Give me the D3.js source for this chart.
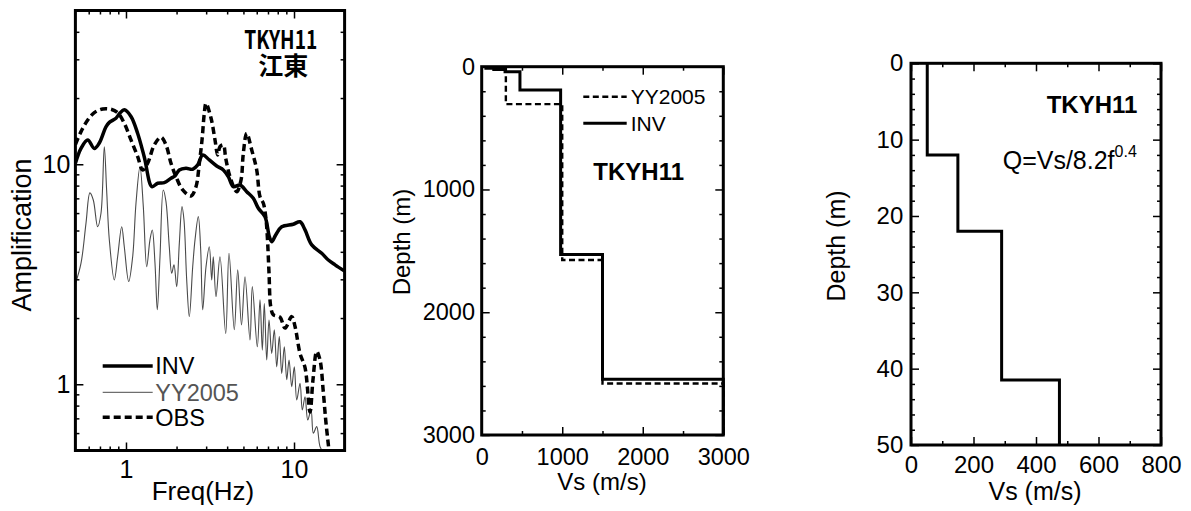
<!DOCTYPE html>
<html>
<head>
<meta charset="utf-8">
<script src="https://cdn.jsdelivr.net/npm/d3@7"></script>
<style>
  html, body { margin: 0; padding: 0; background: #fff; }
  svg { display: block; }
  text { font-family: "Liberation Sans", Arial, sans-serif; fill: #000; }
</style>
</head>
<body>
<svg id="chart" width="1191" height="511"></svg>
<script>
// ---- Amplification spectra (site TKYH11) ----
const invFreq = [0.5,0.540,0.592,0.648,0.694,0.760,0.796,0.872,0.921,0.977,1.071,1.174,1.285,1.428,1.544,1.690,1.853,1.957,2.077,2.276,2.495,2.673,2.861,3.132,3.467,3.795,4.064,4.352,4.770,5.230,5.725,6.133,6.72,7.13,7.37,7.78,8.45,9.90,10.86,11.63,12.75,14.62,16.01,17.54,20.0];
const invAmp  = [10.1,11.82,12.9,11.8,12.5,14.8,15.5,16.2,17.1,17.7,16.5,13.8,10.8,7.91,8.20,8.25,8.64,8.85,9.42,9.59,9.49,9.93,11.02,10.46,9.82,9.42,8.78,7.91,8.05,7.51,7.01,6.31,5.78,4.69,4.45,4.77,5.20,5.34,5.48,5.03,4.30,3.94,3.67,3.49,3.27];

const obsFreq = [0.5,0.540,0.592,0.648,0.727,0.814,0.892,0.977,1.071,1.174,1.257,1.346,1.474,1.615,1.730,1.853,1.985,2.176,2.437,2.610,2.732,2.835,2.925,2.994,3.206,3.387,3.514,3.627,3.795,3.922,4.159,4.560,4.837,4.992,5.230,5.601,5.998,6.276,6.568,6.787,6.937,7.10,7.27,7.53,8.25,8.84,9.69,10.14,10.86,11.63,12.45,12.97,13.65,14.28,14.94,15.44,16.01,16.3];
const obsAmp  = [12.3,14.07,15.90,17.16,17.84,17.78,17.16,15.36,12.90,10.83,9.42,10.11,12.24,13.27,12.24,10.11,8.78,7.64,7.17,7.91,10.11,12.90,17.06,18.94,16.23,12.90,11.02,12.02,12.24,10.65,8.78,7.51,8.48,11.22,13.83,11.62,9.42,7.12,6.65,5.78,4.69,3.20,2.25,2.07,2.02,1.80,2.03,1.83,1.38,1.19,0.748,1.05,1.41,1.29,0.923,0.688,0.530,0.47];

const yyFreq = [0.5,0.540,0.578,0.610,0.639,0.678,0.710,0.743,0.767,0.796,
  0.852,0.892,0.943,0.977,1.038,1.096,1.147,1.211,1.268,1.328,
  1.389,1.434,1.488,1.536,1.594,1.667,1.730,1.810,1.871,1.931,
  2.004,2.077,2.154,2.214,2.298,2.382,2.495,2.575,2.694,2.784,
  2.861,2.994,3.132,3.237,3.308,3.433,3.627,3.922,4.103,4.412,
  4.623,4.870,5.109,5.471,5.647,6.047,6.276,6.477,6.656,6.879,
  7.099,7.366,7.633,7.888,8.174,8.448,8.755,9.05,9.34,9.69,
  10.04,10.38,10.86,11.20,11.63,12.07,12.63,13.03,13.65,14.28,14.94];
const yyAmp = [2.86,3.55,5.39,7.41,6.88,5.20,5.99,12.02,7.64,4.53,
  2.98,3.80,5.20,4.22,2.93,3.80,6.65,9.75,6.42,3.42,
  4.53,5.03,3.55,2.18,3.80,7.64,6.76,4.22,3.20,3.49,
  2.78,4.37,6.42,5.58,2.98,2.03,3.42,4.53,5.78,4.08,
  2.18,3.42,4.22,2.98,3.80,2.50,3.80,1.70,3.94,1.77,
  3.31,1.86,3.08,1.59,2.78,1.48,2.42,1.43,2.33,1.29,
  1.96,1.38,1.77,1.20,1.65,1.12,1.48,1.05,1.29,0.975,
  1.20,0.848,1.01,0.764,0.878,0.688,0.764,0.599,0.642,0.521,0.492];

// ---- Velocity profiles: layer top depth (m) and Vs (m/s) ----
const invLayerTop = [0, 12, 22, 41.5, 190, 1530, 2545];
const invLayerVs  = [52, 150, 290, 475, 980, 1500, 3000];
const yyLayerTop  = [0, 305, 1575, 2580];
const yyLayerVs   = [300, 1000, 1500, 3000];

// ---- Tick values ----
const ampMajor = [1, 10];
const ampMinor = [0.6,0.7,0.8,0.9,2,3,4,5,6,7,8,9,20,30,40];
const freqMajor = [1, 10];
const freqMinor = [0.6,0.7,0.8,0.9,2,3,4,5,6,7,8,9];
const deepMajor = [0, 1000, 2000, 3000];
const deepVsMinor = [500, 1500, 2500];
const deepDepthMinor = [200,400,600,800,1200,1400,1600,1800,2200,2400,2600,2800];
const shallowVsMajor = [0, 200, 400, 600, 800];
const shallowVsMinor = [100, 300, 500, 700];
const shallowDepthMajor = [0, 10, 20, 30, 40, 50];
const shallowDepthMinor = [2,4,6,8,12,14,16,18,22,24,26,28,32,34,36,38,42,44,46,48];

const svg = d3.select("#chart");
const zip = (a, b) => a.map((v, i) => [v, b[i]]);

// Box with inward ticks on all four sides
function frame(g, x, y, opts) {
  const [x0, x1] = x.range();
  const [y1, y0] = [Math.max(...y.range()), Math.min(...y.range())];
  const fs = opts.fontSize;
  const big = 8, small = 4;
  const fmt = opts.format || (d => d);

  function put(axisFn, scale, vals, size, pos, labels, pad) {
    const ax = axisFn(scale).tickValues(vals).tickSize(size)
      .tickPadding(pad || 0).tickFormat(labels ? fmt : "");
    const s = g.append("g").attr("transform", pos).call(ax);
    s.select(".domain").remove();
    s.selectAll("line").attr("stroke", "#000").attr("stroke-width", 1.5);
    s.selectAll("text").attr("font-size", fs).attr("font-family", "'Liberation Sans', Arial, sans-serif").attr("fill", "#000");
    return s;
  }
  // bottom
  put(d3.axisBottom, x, opts.xMajor, -big, `translate(0,${y1})`, true, opts.xPad);
  put(d3.axisBottom, x, opts.xMinor, -small, `translate(0,${y1})`, false);
  // top
  put(d3.axisTop, x, opts.xMajor, -big, `translate(0,${y0})`, false);
  put(d3.axisTop, x, opts.xMinor, -small, `translate(0,${y0})`, false);
  // left
  put(d3.axisLeft, y, opts.yMajor, -big, `translate(${x0},0)`, true, opts.yPad);
  put(d3.axisLeft, y, opts.yMinor, -small, `translate(${x0},0)`, false);
  // right
  put(d3.axisRight, y, opts.yMajor, -big, `translate(${x1},0)`, false);
  put(d3.axisRight, y, opts.yMinor, -small, `translate(${x1},0)`, false);

  g.append("rect").attr("x", x0).attr("y", y0)
    .attr("width", x1 - x0).attr("height", y1 - y0)
    .attr("fill", "none").attr("stroke", "#000").attr("stroke-width", 3);
}

/* ================= Panel 1: amplification ================= */
const xL = d3.scaleLog().domain([0.5, 20]).range([75.4, 344.6]);
const yL = d3.scaleLog().domain([0.5, 50]).range([450.5, 10.5]);
const gL = svg.append("g");

svg.append("defs").append("clipPath").attr("id", "clipL")
  .append("rect").attr("x", 75.4).attr("y", 10.5).attr("width", 269.2).attr("height", 440);

const lineL = d3.line().x(d => xL(d[0])).y(d => yL(d[1])).curve(d3.curveCatmullRom.alpha(0.5));
const curves = gL.append("g").attr("clip-path", "url(#clipL)");
curves.append("path").attr("d", lineL(zip(yyFreq, yyAmp)))
  .attr("fill", "none").attr("stroke", "#4a4a4a").attr("stroke-width", 1.1);
curves.append("path").attr("d", lineL(zip(obsFreq, obsAmp)))
  .attr("fill", "none").attr("stroke", "#000").attr("stroke-width", 3.5).attr("stroke-dasharray", "7,4");
curves.append("path").attr("d", lineL(zip(invFreq, invAmp)))
  .attr("fill", "none").attr("stroke", "#000").attr("stroke-width", 3.5);

frame(gL, xL, yL, {
  fontSize: 25, xMajor: freqMajor, xMinor: freqMinor, yMajor: ampMajor, yMinor: ampMinor,
  xPad: 10, yPad: 5
});

gL.append("text").attr("x", 203).attr("y", 500).attr("text-anchor", "middle")
  .attr("font-size", 26).text("Freq(Hz)");
gL.append("text").attr("transform", "translate(31,235) rotate(-90)").attr("text-anchor", "middle")
  .attr("font-size", 27).text("Amplification");

// station code and district name, two lines in one label
const site = gL.append("text")
  .style("font-family", "'Noto Sans CJK JP', sans-serif").attr("font-weight", "bold");
site.append("tspan").attr("x", 244.3).attr("y", 49.3).attr("font-size", 26)
  .attr("textLength", 73).attr("lengthAdjust", "spacingAndGlyphs").text("TKYH11");
site.append("tspan").attr("x", 258.3).attr("y", 75).attr("font-size", 25).text("江東");

// legend
const legL = [
  { name: "INV", y: 366, w: 3.5, dash: null, color: "#000", text: "#000" },
  { name: "YY2005", y: 392.3, w: 1, dash: null, color: "#4a4a4a", text: "#555" },
  { name: "OBS", y: 417.3, w: 3.5, dash: "7,4", color: "#000", text: "#000" }
];
legL.forEach(d => {
  gL.append("line").attr("x1", 102.7).attr("x2", 152.7).attr("y1", d.y).attr("y2", d.y)
    .attr("stroke", d.color).attr("stroke-width", d.w).attr("stroke-dasharray", d.dash);
  gL.append("text").attr("x", 155.3).attr("y", d.y + 8.2).attr("font-size", 23.5)
    .style("fill", d.text).text(d.name);
});

/* ================= Panel 2: deep Vs profile ================= */
const xM = d3.scaleLinear().domain([0, 3000]).range([481.7, 723.3]);
const yM = d3.scaleLinear().domain([0, 3000]).range([66.7, 435]);
const gM = svg.append("g");

function stepPoints(tops, vs, maxDepth) {
  const pts = [];
  vs.forEach((v, i) => {
    const bottom = i + 1 < tops.length ? tops[i + 1] : maxDepth;
    pts.push([v, tops[i]], [v, bottom]);
  });
  return pts;
}
const lineM = d3.line().x(d => xM(d[0])).y(d => yM(d[1]));
gM.append("path").attr("d", lineM(stepPoints(yyLayerTop, yyLayerVs, 3000)))
  .attr("fill", "none").attr("stroke", "#000").attr("stroke-width", 2.4).attr("stroke-dasharray", "6,3.5");
gM.append("path").attr("d", lineM(stepPoints(invLayerTop, invLayerVs, 3000)))
  .attr("fill", "none").attr("stroke", "#000").attr("stroke-width", 3);

frame(gM, xM, yM, {
  fontSize: 23.5, xMajor: deepMajor, xMinor: deepVsMinor, yMajor: deepMajor, yMinor: deepDepthMinor,
  xPad: 13.3, yPad: 6.7
});
gM.append("text").attr("x", 602).attr("y", 490).attr("text-anchor", "middle")
  .attr("font-size", 24).text("Vs (m/s)");
gM.append("text").attr("transform", "translate(410,242) rotate(-90)").attr("text-anchor", "middle")
  .attr("font-size", 24).text("Depth (m)");

const legM = [
  { name: "YY2005", y: 96.7, w: 2.4, dash: "6,3.5" },
  { name: "INV", y: 123.3, w: 3, dash: null }
];
legM.forEach(d => {
  gM.append("line").attr("x1", 583.3).attr("x2", 626.7).attr("y1", d.y).attr("y2", d.y)
    .attr("stroke", "#000").attr("stroke-width", d.w).attr("stroke-dasharray", d.dash);
  gM.append("text").attr("x", 630.7).attr("y", d.y + 7.5).attr("font-size", 21).text(d.name);
});
gM.append("text").attr("x", 638.7).attr("y", 180).attr("text-anchor", "middle")
  .attr("font-size", 24).attr("font-weight", "bold").text("TKYH11");

/* ================= Panel 3: shallow Vs profile ================= */
const xR = d3.scaleLinear().domain([0, 800]).range([911, 1161]);
const yR = d3.scaleLinear().domain([0, 50]).range([63.3, 445]);
const gR = svg.append("g");

const shallowTops = invLayerTop.filter(t => t < 50);
const shallowVs = invLayerVs.slice(0, shallowTops.length);
const lineR = d3.line().x(d => xR(d[0])).y(d => yR(d[1]));
gR.append("path").attr("d", lineR(stepPoints(shallowTops, shallowVs, 50)))
  .attr("fill", "none").attr("stroke", "#000").attr("stroke-width", 3);

frame(gR, xR, yR, {
  fontSize: 24, xMajor: shallowVsMajor, xMinor: shallowVsMinor, yMajor: shallowDepthMajor, yMinor: shallowDepthMinor,
  xPad: 11.3, yPad: 7.7
});
gR.append("text").attr("x", 1035).attr("y", 500).attr("text-anchor", "middle")
  .attr("font-size", 25).text("Vs (m/s)");
gR.append("text").attr("transform", "translate(845,246) rotate(-90)").attr("text-anchor", "middle")
  .attr("font-size", 25).text("Depth (m)");
gR.append("text").attr("x", 1092).attr("y", 113.3).attr("text-anchor", "middle")
  .attr("font-size", 24).attr("font-weight", "bold").text("TKYH11");
const q = gR.append("text").attr("x", 1002.7).attr("y", 169.3).attr("font-size", 25);
q.append("tspan").text("Q=Vs/8.2f");
q.append("tspan").attr("font-size", 16).attr("dy", -12.6).text("0.4");
</script>
</body>
</html>
